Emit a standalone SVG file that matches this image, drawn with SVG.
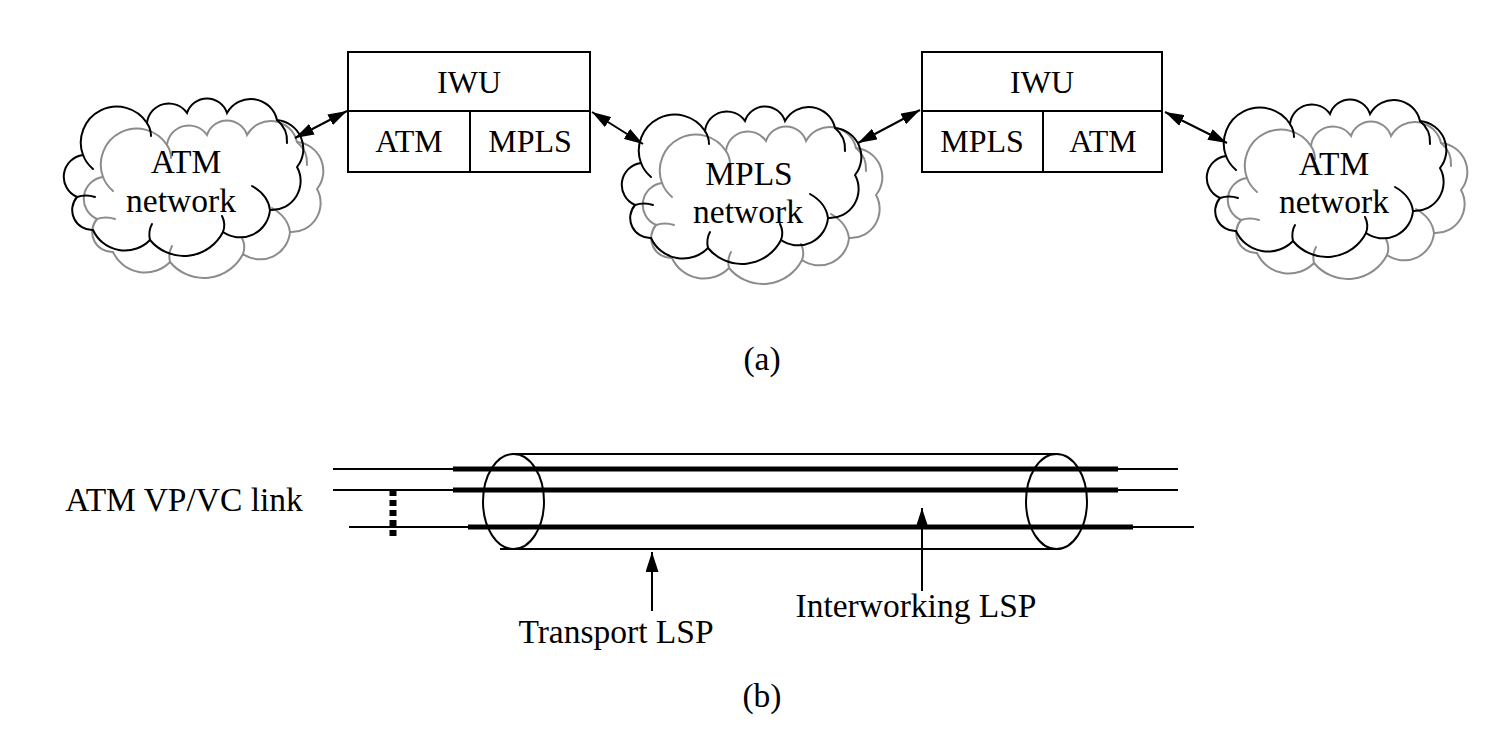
<svg xmlns="http://www.w3.org/2000/svg" xmlns:xlink="http://www.w3.org/1999/xlink" width="1496" height="752" viewBox="0 0 1496 752">
<style>
text{font-family:"Liberation Serif","Times New Roman",serif;fill:#000;text-anchor:middle}
.t32{font-size:32px}
.t33{font-size:33.5px}
.box{fill:none;stroke:#000;stroke-width:2}
.cb{fill:none;stroke:#000;stroke-width:2;stroke-linecap:round}
.cg{fill:none;stroke:#8c8c8c;stroke-width:2;stroke-linecap:round}
.conn{fill:none;stroke:#000;stroke-width:2}
.thin{stroke:#000;stroke-width:2;fill:none}
.thick{stroke:#000;stroke-width:5;fill:none}
</style>
<defs>
<marker id="ah" viewBox="0 0 19 12" refX="19" refY="6" markerWidth="19" markerHeight="12" markerUnits="userSpaceOnUse" orient="auto-start-reverse">
<path d="M0,0 L19,6 L0,12 Z" fill="#000"/>
</marker>
<marker id="ah2" viewBox="0 0 20 13" refX="20" refY="6.5" markerWidth="20" markerHeight="13" markerUnits="userSpaceOnUse" orient="auto">
<path d="M0,0 L20,6.5 L0,13 Z" fill="#000"/>
</marker>
<g id="cloudshape">
<path d="M21,58 A36,36 0 0 1 85,26 A22,22 0 0 1 125,16 A21,21 0 0 1 165,16 A27,27 0 0 1 215,23 A29,29 0 0 1 235,70 A29,29 0 0 1 208,113 A30,30 0 0 1 161,135 A44,44 0 0 1 88,143 A35,35 0 0 1 31,133 A20,20 0 0 1 15,100 A22,22 0 0 1 21,58 Z"/>
<path d="M215,23 Q226,32 225,46"/>
<path d="M190,89 Q206,98 208,113"/>
<path d="M161,135 Q164,127 160,119"/>
<path d="M88,143 Q86,134 90,127"/>
<path d="M15,100 Q24,97 33,100"/>
<path d="M21,58 Q24,66 31,72"/>
<path d="M85,26 Q89,32 89,39"/>
</g>
</defs>
<rect width="1496" height="752" fill="#fff"/>

<g id="cloud-atm-left">
<use xlink:href="#cloudshape" class="cg" transform="translate(82,119)"/>
<use xlink:href="#cloudshape" class="cb" transform="translate(62,97)"/>
<text class="t33" x="186" y="173">ATM</text>
<text class="t33" x="181" y="212">network</text>
</g>

<g id="iwu-left">
<rect class="box" x="348" y="52" width="242" height="120"/>
<line class="box" x1="348" y1="111" x2="590" y2="111"/>
<line class="box" x1="470" y1="111" x2="470" y2="172"/>
<text class="t32" x="469" y="93">IWU</text>
<text class="t32" x="409" y="152">ATM</text>
<text class="t32" x="530" y="152">MPLS</text>
</g>

<g id="cloud-mpls">
<use xlink:href="#cloudshape" class="cg" transform="translate(641,125)"/>
<use xlink:href="#cloudshape" class="cb" transform="translate(620,105)"/>
<text class="t33" x="749" y="185">MPLS</text>
<text class="t33" x="748" y="223">network</text>
</g>

<g id="iwu-right">
<rect class="box" x="922" y="52" width="240" height="120"/>
<line class="box" x1="922" y1="111" x2="1162" y2="111"/>
<line class="box" x1="1043" y1="111" x2="1043" y2="172"/>
<text class="t32" x="1042" y="93">IWU</text>
<text class="t32" x="982" y="152">MPLS</text>
<text class="t32" x="1103" y="152">ATM</text>
</g>

<g id="cloud-atm-right">
<use xlink:href="#cloudshape" class="cg" transform="translate(1226,120)"/>
<use xlink:href="#cloudshape" class="cb" transform="translate(1205,98)"/>
<text class="t33" x="1334" y="175">ATM</text>
<text class="t33" x="1334" y="213">network</text>
</g>

<g id="connectors">
<line class="conn" x1="295" y1="138" x2="347" y2="111" marker-start="url(#ah)" marker-end="url(#ah)"/>
<line class="conn" x1="592" y1="112" x2="643" y2="144" marker-start="url(#ah)" marker-end="url(#ah)"/>
<line class="conn" x1="920" y1="110" x2="858" y2="143" marker-start="url(#ah)" marker-end="url(#ah)"/>
<line class="conn" x1="1165" y1="112" x2="1227" y2="143" marker-start="url(#ah)" marker-end="url(#ah)"/>
<line class="conn" x1="652" y1="611" x2="652" y2="552" marker-end="url(#ah2)"/>
<line class="conn" x1="922" y1="591" x2="922" y2="508" marker-end="url(#ah2)"/>
</g>

<text class="t33" x="762" y="370">(a)</text>

<g id="lsp-diagram">
<line class="thin" x1="333" y1="469" x2="1178" y2="469"/>
<line class="thin" x1="333" y1="490" x2="1178" y2="490"/>
<line class="thin" x1="349" y1="527" x2="1194" y2="527"/>
<line class="thick" x1="453" y1="469" x2="1118" y2="469"/>
<line class="thick" x1="453" y1="490" x2="1118" y2="490"/>
<line class="thick" x1="468" y1="527" x2="1133" y2="527"/>
<line class="thin" x1="512" y1="454" x2="1058" y2="454"/>
<line class="thin" x1="500" y1="549" x2="1058" y2="549"/>
<ellipse class="thin" cx="513.5" cy="501.5" rx="30.5" ry="47.5"/>
<ellipse class="thin" cx="1056.5" cy="501.5" rx="30.5" ry="47.5"/>
<line x1="393" y1="490" x2="393" y2="536" stroke="#000" stroke-width="7" stroke-dasharray="6,4"/>
</g>

<text class="t33" x="184" y="511">ATM VP/VC link</text>
<text class="t33" x="616" y="643">Transport LSP</text>
<text class="t33" x="916" y="617">Interworking LSP</text>
<text class="t33" x="762" y="707">(b)</text>
</svg>
